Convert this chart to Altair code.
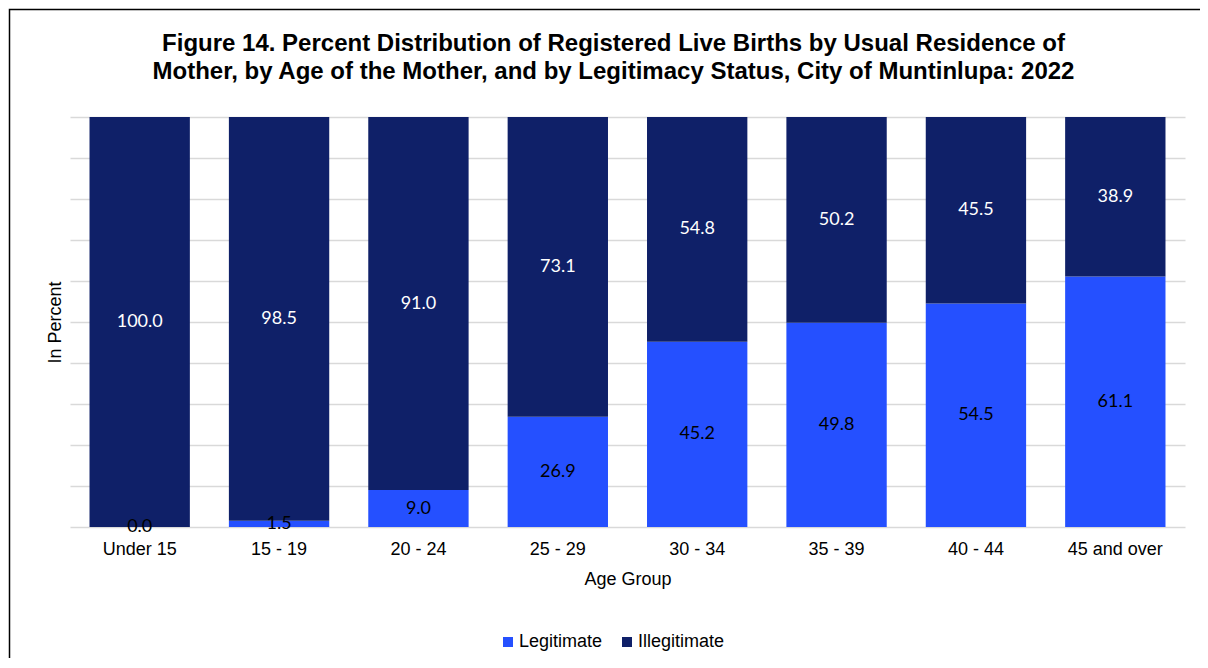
import altair as alt
import pandas as pd

age_groups = ["Under 15", "15 - 19", "20 - 24", "25 - 29", "30 - 34", "35 - 39", "40 - 44", "45 and over"]
legitimate = [0.0, 1.5, 9.0, 26.9, 45.2, 49.8, 54.5, 61.1]
illegitimate = [100.0, 98.5, 91.0, 73.1, 54.8, 50.2, 45.5, 38.9]
statuses = ["Legitimate", "Illegitimate"]
colors = ["#2550FF", "#0F2068"]

rows = []
for i, g in enumerate(age_groups):
    rows.append({"age": g, "status": "Legitimate", "value": legitimate[i], "order": 0,
                 "start": 0.0, "end": legitimate[i]})
    rows.append({"age": g, "status": "Illegitimate", "value": illegitimate[i], "order": 1,
                 "start": legitimate[i], "end": legitimate[i] + illegitimate[i]})
df = pd.DataFrame(rows)
df["mid"] = (df["start"] + df["end"]) / 2
df["label"] = df["value"].map(lambda v: f"{v:.1f}")

FONT = "Liberation Sans"

x_enc = alt.X("age:N", sort=age_groups, title="Age Group",
              scale=alt.Scale(paddingInner=0.28, paddingOuter=0.14),
              axis=alt.Axis(labelAngle=0, labelFont=FONT, labelFontSize=18, labelColor="#000000",
                            labelPadding=13, ticks=False, tickSize=0, domain=False, grid=False,
                            titleFont=FONT, titleFontSize=18, titleFontWeight="normal",
                            titleColor="#000000", titlePadding=12))

base = alt.Chart(df)

bars = base.mark_bar().encode(
    x=x_enc,
    y=alt.Y("start:Q", title="In Percent", scale=alt.Scale(domain=[0, 100], nice=False),
            axis=alt.Axis(values=list(range(0, 101, 10)), labels=False, ticks=False, domain=False,
                          grid=True, gridColor="#D9D9D9", gridWidth=1.5,
                          titleFont=FONT, titleFontSize=18, titleFontWeight="normal",
                          titleColor="#000000", titlePadding=6)),
    y2="end:Q",
    color=alt.Color("status:N", scale=alt.Scale(domain=statuses, range=colors),
                    legend=alt.Legend(title=None, orient="none", direction="horizontal",
                                      legendX=429, legendY=516, symbolType="square",
                                      symbolSize=100, symbolStrokeWidth=0, labelFont=FONT,
                                      labelFontSize=18, labelColor="#000000", labelOffset=2,
                                      columnPadding=15, padding=0)),
    order=alt.Order("order:Q"),
)

text = base.mark_text(font="Lato", fontSize=18, baseline="middle", align="center").encode(
    x=alt.X("age:N", sort=age_groups),
    y=alt.Y("mid:Q"),
    text="label:N",
    color=alt.Color("status:N", scale=alt.Scale(domain=statuses, range=["#000000", "#FFFFFF"]),
                    legend=None),
)

frame = alt.Chart(pd.DataFrame({"k": [1]})).mark_rect(
    fill=None, stroke="#000000", strokeWidth=1.5, clip=False
).encode(x=alt.value(-60.5), x2=alt.value(1250), y=alt.value(-107.5), y2=alt.value(700))

chart = alt.layer(frame, bars, text).resolve_scale(color="independent").properties(
    width=1115, height=410,
    background="#FFFFFF",
    title=alt.TitleParams(
        text=["Figure 14. Percent Distribution of Registered Live Births by Usual Residence of",
              "Mother, by Age of the Mother, and by Legitimacy Status, City of Muntinlupa: 2022"],
        font=FONT, fontSize=24, fontWeight="bold", color="#000000", lineHeight=27.5,
        anchor="middle", frame="group", dx=-14, dy=75, offset=0),
    autosize=alt.AutoSizeParams(type="none"),
    padding={"left": 62, "top": 109, "right": 15, "bottom": 131},
).configure_view(stroke=None)

chart.save("out.html", embed_options={"renderer": "svg", "actions": False})
